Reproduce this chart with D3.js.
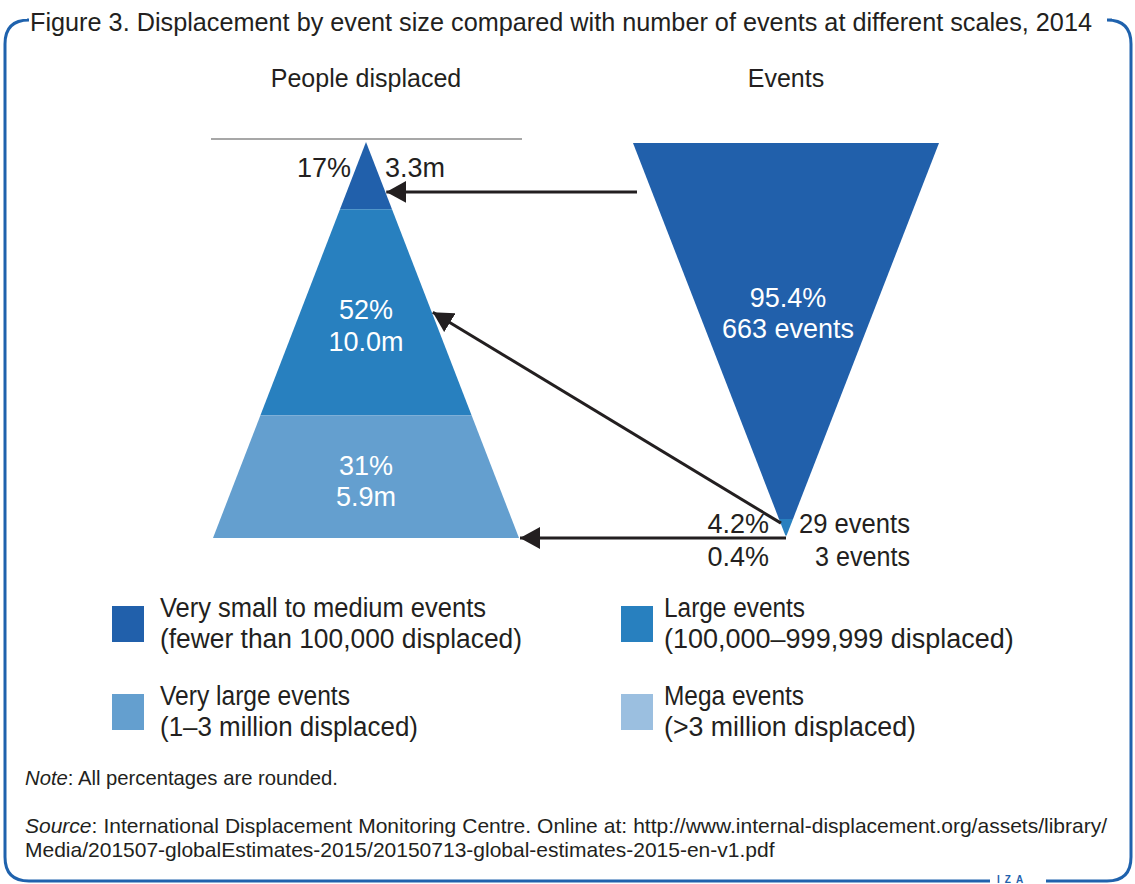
<!DOCTYPE html>
<html><head><meta charset="utf-8">
<script src="https://cdn.jsdelivr.net/npm/d3@7"></script>
<style>
html,body{margin:0;padding:0;background:#fff;}
svg{display:block;}
text{font-family:"Liberation Sans Narrow","Arial Narrow","Liberation Sans",sans-serif;fill:#231f20;}
</style></head>
<body>
<script>
// ---- data ----
const titleText = "Figure 3. Displacement by event size compared with number of events at different scales, 2014";
const panelTitles = ["People displaced", "Events"];
const categories = ["Very small to medium events", "Large events", "Very large events", "Mega events"];
const categoryRanges = ["(fewer than 100,000 displaced)", "(100,000\u2013999,999 displaced)", "(1\u20133 million displaced)", "(>3 million displaced)"];
const peoplePct = [17, 52, 31];
const peopleMillions = ["3.3m", "10.0m", "5.9m"];
const eventsPct = [95.4, 4.2, 0.4];
const eventsCount = [663, 29, 3];
const colors = ["#2160ab", "#2880bf", "#649fcf", "#9bbfe0"];
const noteText = "All percentages are rounded.";
const sourceLines = ["International Displacement Monitoring Centre. Online at: http://www.internal-displacement.org/assets/library/",
                     "Media/201507-globalEstimates-2015/20150713-global-estimates-2015-en-v1.pdf"];

// ---- layout ----
const W = 1135, H = 884;
const svg = d3.select("body").append("svg").attr("width", W).attr("height", H);
const ink = "#231f20";

// fit a text to a target width by squeezing glyphs (only when wider than target)
function fit(sel, target) {
  const w = sel.node().getComputedTextLength();
  if (w > target) sel.attr("textLength", target).attr("lengthAdjust", "spacingAndGlyphs");
  return sel;
}

// border
const bc = "#1f62ad";
const bx0 = 5, bx1 = 1131, by0 = 20, by1 = 881, r = 24;
const border = d3.path();
border.moveTo(27, by0);
border.lineTo(bx0 + r, by0);
border.quadraticCurveTo(bx0, by0, bx0, by0 + r);
border.lineTo(bx0, by1 - r);
border.quadraticCurveTo(bx0, by1, bx0 + r, by1);
border.lineTo(990, by1);
border.moveTo(1046, by1);
border.lineTo(bx1 - r, by1);
border.quadraticCurveTo(bx1, by1, bx1, by1 - r);
border.lineTo(bx1, by0 + r);
border.quadraticCurveTo(bx1, by0, bx1 - r, by0);
border.lineTo(1112, by0);
svg.append("path").attr("d", border.toString()).attr("fill", "none").attr("stroke", bc).attr("stroke-width", 3);
svg.append("text").attr("x", 997).attr("y", 883).attr("font-size", 10).attr("font-weight", "bold")
  .attr("letter-spacing", 5).style("fill", bc).style("font-family", "Liberation Sans, sans-serif").text("IZA");

// title
fit(svg.append("text").attr("x", 30).attr("y", 31).attr("font-size", 26).text(titleText), 1062);

// scales
const yPeople = d3.scaleLinear().domain([0, 100]).range([142, 538]);
const yEvents = d3.scaleLinear().domain([0, 100]).range([143, 537]);
const cxP = 366, cxE = 786, halfBase = 153;
const wPeople = d3.scaleLinear().domain([0, 100]).range([0, halfBase]);
const wEvents = d3.scaleLinear().domain([0, 100]).range([halfBase, 0]);

// panel titles
svg.append("text").attr("x", cxP).attr("y", 87).attr("text-anchor", "middle").attr("font-size", 25).text(panelTitles[0]);
svg.append("text").attr("x", cxE).attr("y", 87).attr("text-anchor", "middle").attr("font-size", 25).text(panelTitles[1]);

svg.append("line").attr("x1", 211).attr("x2", 522).attr("y1", 139).attr("y2", 139)
  .attr("stroke", "#8a8a8a").attr("stroke-width", 1.5);

function segs(pcts) {
  let c = 0;
  return pcts.map((p, i) => { const s = { i, p, a: c, b: c + p }; c += p; return s; });
}
const pSegs = segs(peoplePct);
const eSegs = segs(eventsPct);

svg.append("g").selectAll("path").data(pSegs).join("path")
  .attr("d", d => {
    const y0 = yPeople(d.a), y1 = yPeople(d.b), w0 = wPeople(d.a), w1 = wPeople(d.b);
    return `M${cxP - w0},${y0}L${cxP + w0},${y0}L${cxP + w1},${y1}L${cxP - w1},${y1}Z`;
  })
  .attr("fill", d => colors[d.i]);

svg.append("g").selectAll("path").data(eSegs).join("path")
  .attr("d", d => {
    const y0 = yEvents(d.a), y1 = yEvents(d.b), w0 = wEvents(d.a), w1 = wEvents(d.b);
    return `M${cxE - w0},${y0}L${cxE + w0},${y0}L${cxE + w1},${y1}L${cxE - w1},${y1}Z`;
  })
  .attr("fill", d => colors[d.i === 0 ? 0 : d.i === 1 ? 1 : 3]);

// labels people
const fs = 27;
svg.append("text").attr("x", 351).attr("y", 177).attr("text-anchor", "end").attr("font-size", fs).text(peoplePct[0] + "%");
svg.append("text").attr("x", 385).attr("y", 177).attr("font-size", fs).text(peopleMillions[0]);
const innerY = [null, [319, 351], [475, 506]];
[1, 2].forEach(i => {
  svg.append("text").attr("x", cxP).attr("y", innerY[i][0]).attr("text-anchor", "middle").attr("font-size", fs)
    .style("fill", "#fff").text(peoplePct[i] + "%");
  svg.append("text").attr("x", cxP).attr("y", innerY[i][1]).attr("text-anchor", "middle").attr("font-size", fs)
    .style("fill", "#fff").text(peopleMillions[i]);
});
// labels events
svg.append("text").attr("x", cxE + 2).attr("y", 307).attr("text-anchor", "middle").attr("font-size", fs)
  .style("fill", "#fff").text(eventsPct[0] + "%");
svg.append("text").attr("x", cxE + 2).attr("y", 338).attr("text-anchor", "middle").attr("font-size", fs)
  .style("fill", "#fff").text(eventsCount[0] + " events");
svg.append("text").attr("x", 769).attr("y", 533).attr("text-anchor", "end").attr("font-size", fs).text(eventsPct[1] + "%");
fit(svg.append("text").attr("x", 799).attr("y", 533).attr("font-size", fs).text(eventsCount[1] + " events"), 111);
svg.append("text").attr("x", 769).attr("y", 566).attr("text-anchor", "end").attr("font-size", fs).text(eventsPct[2] + "%");
fit(svg.append("text").attr("x", 815).attr("y", 566).attr("font-size", fs).text(eventsCount[2] + " events"), 95);

// arrows
const defs = svg.append("defs");
defs.append("marker").attr("id", "ah").attr("viewBox", "0 0 20 22").attr("refX", 20).attr("refY", 11)
  .attr("markerWidth", 20).attr("markerHeight", 22).attr("markerUnits", "userSpaceOnUse").attr("orient", "auto")
  .append("path").attr("d", "M0,0L20,11L0,22Z").attr("fill", ink);
const edgeP = y => cxP + wPeople(yPeople.invert(y));
const arrows = [
  { x1: 637, y1: yPeople(12.6), y2: yPeople(12.6) },
  { x1: cxE - 5, y1: yEvents(eSegs[1].a + eSegs[1].p / 2) - 4, y2: yPeople(pSegs[1].a + pSegs[1].p / 2) },
  { x1: cxE, y1: yPeople(100), y2: yPeople(100) }
];
svg.append("g").selectAll("line").data(arrows).join("line")
  .attr("x1", d => d.x1).attr("y1", d => d.y1)
  .attr("x2", d => edgeP(d.y2) + 1).attr("y2", d => d.y2)
  .attr("stroke", ink).attr("stroke-width", 3).attr("marker-end", "url(#ah)");

// legend
const legPos = [[112, 606], [621, 606], [112, 694], [621, 694]];
const legW = [[326, 362], [141, 352], [190, 258], [140, 252]];
[0, 1, 2, 3].forEach(c => {
  const [lx, ly] = legPos[c];
  const tx = c % 2 === 0 ? lx + 48 : lx + 43;
  svg.append("rect").attr("x", lx).attr("y", ly).attr("width", 32).attr("height", 36).attr("fill", colors[c]);
  fit(svg.append("text").attr("x", tx).attr("y", ly + 11).attr("font-size", fs).text(categories[c]), legW[c][0]);
  fit(svg.append("text").attr("x", tx).attr("y", ly + 42).attr("font-size", fs).text(categoryRanges[c]), legW[c][1]);
});

// note & source
const nfs = 21;
const note = svg.append("text").attr("x", 25).attr("y", 785).attr("font-size", nfs);
note.append("tspan").attr("font-style", "italic").text("Note");
note.append("tspan").text(": " + noteText);
fit(note, 313);
const s1 = svg.append("text").attr("x", 25).attr("y", 833).attr("font-size", nfs);
s1.append("tspan").attr("font-style", "italic").text("Source");
s1.append("tspan").text(": " + sourceLines[0]);
const natural = s1.node().getComputedTextLength();
const nSpaces = (": " + sourceLines[0]).split(" ").length - 1;
s1.attr("word-spacing", Math.max(0, (1107 - 25 - natural) / nSpaces));
svg.append("text").attr("x", 25).attr("y", 857).attr("font-size", nfs).text(sourceLines[1]);
</script>
</body></html>
